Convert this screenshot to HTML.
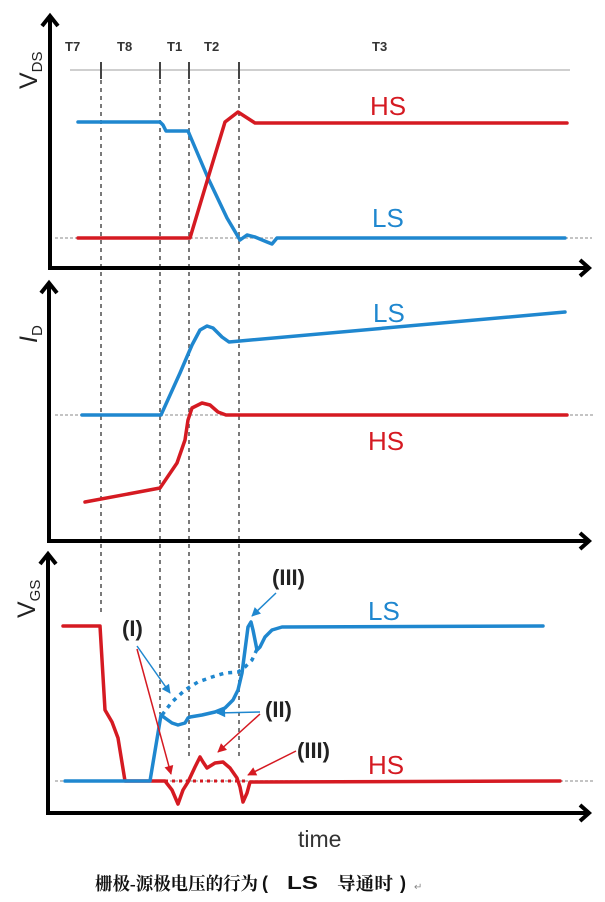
<!DOCTYPE html>
<html><head><meta charset="utf-8">
<style>html,body{margin:0;padding:0;background:#fff}svg{display:block}</style>
</head>
<body>
<svg width="605" height="902" viewBox="0 0 605 902" xmlns="http://www.w3.org/2000/svg" font-family="Liberation Sans, sans-serif">
<defs>
<marker id="ab" viewBox="0 0 10 10" refX="9" refY="5" markerWidth="10" markerHeight="9" markerUnits="userSpaceOnUse" orient="auto"><path d="M0,0 L10,5 L0,10 z" fill="#1f87cf"/></marker>
<marker id="ar" viewBox="0 0 10 10" refX="9" refY="5" markerWidth="10" markerHeight="9" markerUnits="userSpaceOnUse" orient="auto"><path d="M0,0 L10,5 L0,10 z" fill="#d51a22"/></marker>
</defs>

<!-- top gray line -->
<line x1="70" y1="70" x2="570" y2="70" stroke="#cfcfcf" stroke-width="2"/>

<!-- dashed verticals -->
<g stroke="#7a7a7a" stroke-width="2" stroke-dasharray="4 4">
<line x1="101" y1="80" x2="101" y2="616"/>
<line x1="160" y1="80" x2="160" y2="714"/>
<line x1="189" y1="80" x2="189" y2="758"/>
<line x1="239" y1="80" x2="239" y2="760"/>
</g>
<g stroke="#444" stroke-width="2">
<line x1="101" y1="62" x2="101" y2="79"/>
<line x1="160" y1="62" x2="160" y2="79"/>
<line x1="189" y1="62" x2="189" y2="79"/>
<line x1="239" y1="62" x2="239" y2="79"/>
</g>

<!-- T labels -->
<g font-size="13" font-weight="bold" fill="#333">
<text x="65" y="51">T7</text>
<text x="117" y="51">T8</text>
<text x="167" y="51">T1</text>
<text x="204" y="51">T2</text>
<text x="372" y="51">T3</text>
</g>

<!-- gray baselines -->
<g stroke="#b0b0b0" stroke-width="1.5" stroke-dasharray="3 2">
<line x1="55" y1="238" x2="592" y2="238"/>
<line x1="55" y1="415" x2="595" y2="415"/>
<line x1="55" y1="781" x2="593" y2="781"/>
</g>

<!-- axes -->
<g fill="none" stroke="#000" stroke-width="4" stroke-linejoin="miter">
<path d="M50 17 V268 H588"/>
<polyline points="42,26 50,16 58,26"/>
<polyline points="580,260 589,268 580,276"/>
<path d="M49 284 V541 H588"/>
<polyline points="41,293 49,283 57,293"/>
<polyline points="580,533 589,541 580,549"/>
<path d="M48 555 V813 H588"/>
<polyline points="40,564 48,554 56,564"/>
<polyline points="580,805 589,813 580,821"/>
</g>

<!-- axis labels -->
<text transform="translate(37,89) rotate(-90)" font-size="25" fill="#222">V<tspan font-size="15" dy="5">DS</tspan></text>
<text transform="translate(37,343) rotate(-90)" font-size="25" fill="#222" font-style="italic">I<tspan font-size="15" dy="5" font-style="normal">D</tspan></text>
<text transform="translate(35,618) rotate(-90)" font-size="25" fill="#222">V<tspan font-size="15" dy="5">GS</tspan></text>
<text x="298" y="847" font-size="23" fill="#333">time</text>

<!-- series -->
<g fill="none" stroke-width="3.5" stroke-linejoin="round" stroke-linecap="round">
<path stroke="#1f87cf" d="M78,122 L160,122 L163,125 L166,131 L188,131 L208,178 L227,218 L240,240 L247,235 L255,237 L267,242 L272,244 L277,238 L565,238"/>
<path stroke="#d51a22" d="M78,238 L190,238 L208,178 L225,122 L238,112 L255,123 L567,123"/>
<path stroke="#1f87cf" d="M82,415 L161,415 L180,373 L192,345 L200,330 L207,326 L213,328 L222,337 L229,342 L565,312"/>
<path stroke="#d51a22" d="M85,502 L160,488 L177,463 L185,440 L188,420 L192,408 L202,403 L210,405 L218,412 L226,415 L567,415"/>
<path stroke="#d51a22" d="M63,626 L100,626 L105,710 L112,722 L118,738 L125,781 L165,781 L172,790 L178,804 L183,790 L188,782 L195,767 L200,757 L203,762 L207,768 L215,763 L223,762 L230,768 L237,778 L240,787 L243,802 L247,793 L250,782 L560,781"/>
<path stroke="#1f87cf" d="M65,781 L150,781 L161,715 L165,718 L172,723 L178,725 L185,723 L188,718 L190,717 L202,715 L215,712 L225,708 L233,700 L238,690 L242,673 L245,650 L248,627 L251,622 L253,630 L257,650 L260,647 L265,637 L272,630 L282,627 L543,626"/>
</g>
<path fill="none" stroke="#1f87cf" stroke-width="3.5" stroke-dasharray="4 5" d="M162,715 L172,702 L185,690 L198,682 L212,677 L225,673 L238,672 L245,667 L252,660 L258,647"/>
<line x1="165" y1="781" x2="247" y2="781" stroke="#d51a22" stroke-width="3" stroke-dasharray="3 4"/>

<!-- annotation arrows -->
<g stroke-width="1.5" fill="none">
<line x1="137" y1="646" x2="170" y2="693" stroke="#1f87cf" marker-end="url(#ab)"/>
<line x1="137" y1="649" x2="171" y2="774" stroke="#d51a22" marker-end="url(#ar)"/>
<line x1="260" y1="712" x2="217" y2="713" stroke="#1f87cf" marker-end="url(#ab)"/>
<line x1="260" y1="714" x2="218" y2="752" stroke="#d51a22" marker-end="url(#ar)"/>
<line x1="276" y1="593" x2="252" y2="616" stroke="#1f87cf" marker-end="url(#ab)"/>
<line x1="296" y1="751" x2="248" y2="775" stroke="#d51a22" marker-end="url(#ar)"/>
</g>

<!-- annotation labels -->
<g font-size="22" font-weight="bold" fill="#222">
<text x="122" y="636">(I)</text>
<text x="265" y="717">(II)</text>
<text x="272" y="585">(III)</text>
<text x="297" y="758">(III)</text>
</g>

<!-- HS / LS labels -->
<g font-size="26">
<text x="370" y="115" fill="#d51a22">HS</text>
<text x="372" y="227" fill="#1f87cf">LS</text>
<text x="373" y="322" fill="#1f87cf">LS</text>
<text x="368" y="450" fill="#d51a22">HS</text>
<text x="368" y="620" fill="#1f87cf">LS</text>
<text x="368" y="774" fill="#d51a22">HS</text>
</g>

<!-- caption -->
<g fill="#111" font-weight="bold">
<text x="95" y="890" font-size="18" font-family="Liberation Serif, Noto Serif CJK SC, serif" textLength="163" lengthAdjust="spacingAndGlyphs">栅极-源极电压的行为</text>
<text x="262" y="889" font-size="18" font-family="Liberation Sans, sans-serif">(</text>
<text x="287" y="889" font-size="18" font-family="Liberation Sans, sans-serif" textLength="31" lengthAdjust="spacingAndGlyphs">LS</text>
<text x="337" y="890" font-size="18" font-family="Liberation Serif, Noto Serif CJK SC, serif" textLength="56" lengthAdjust="spacingAndGlyphs">导通时</text>
<text x="400" y="889" font-size="18" font-family="Liberation Sans, sans-serif">)</text>
</g>
<text x="414" y="890" font-size="10" fill="#888" font-family="DejaVu Sans, sans-serif">↵</text>
</svg>
</body></html>
